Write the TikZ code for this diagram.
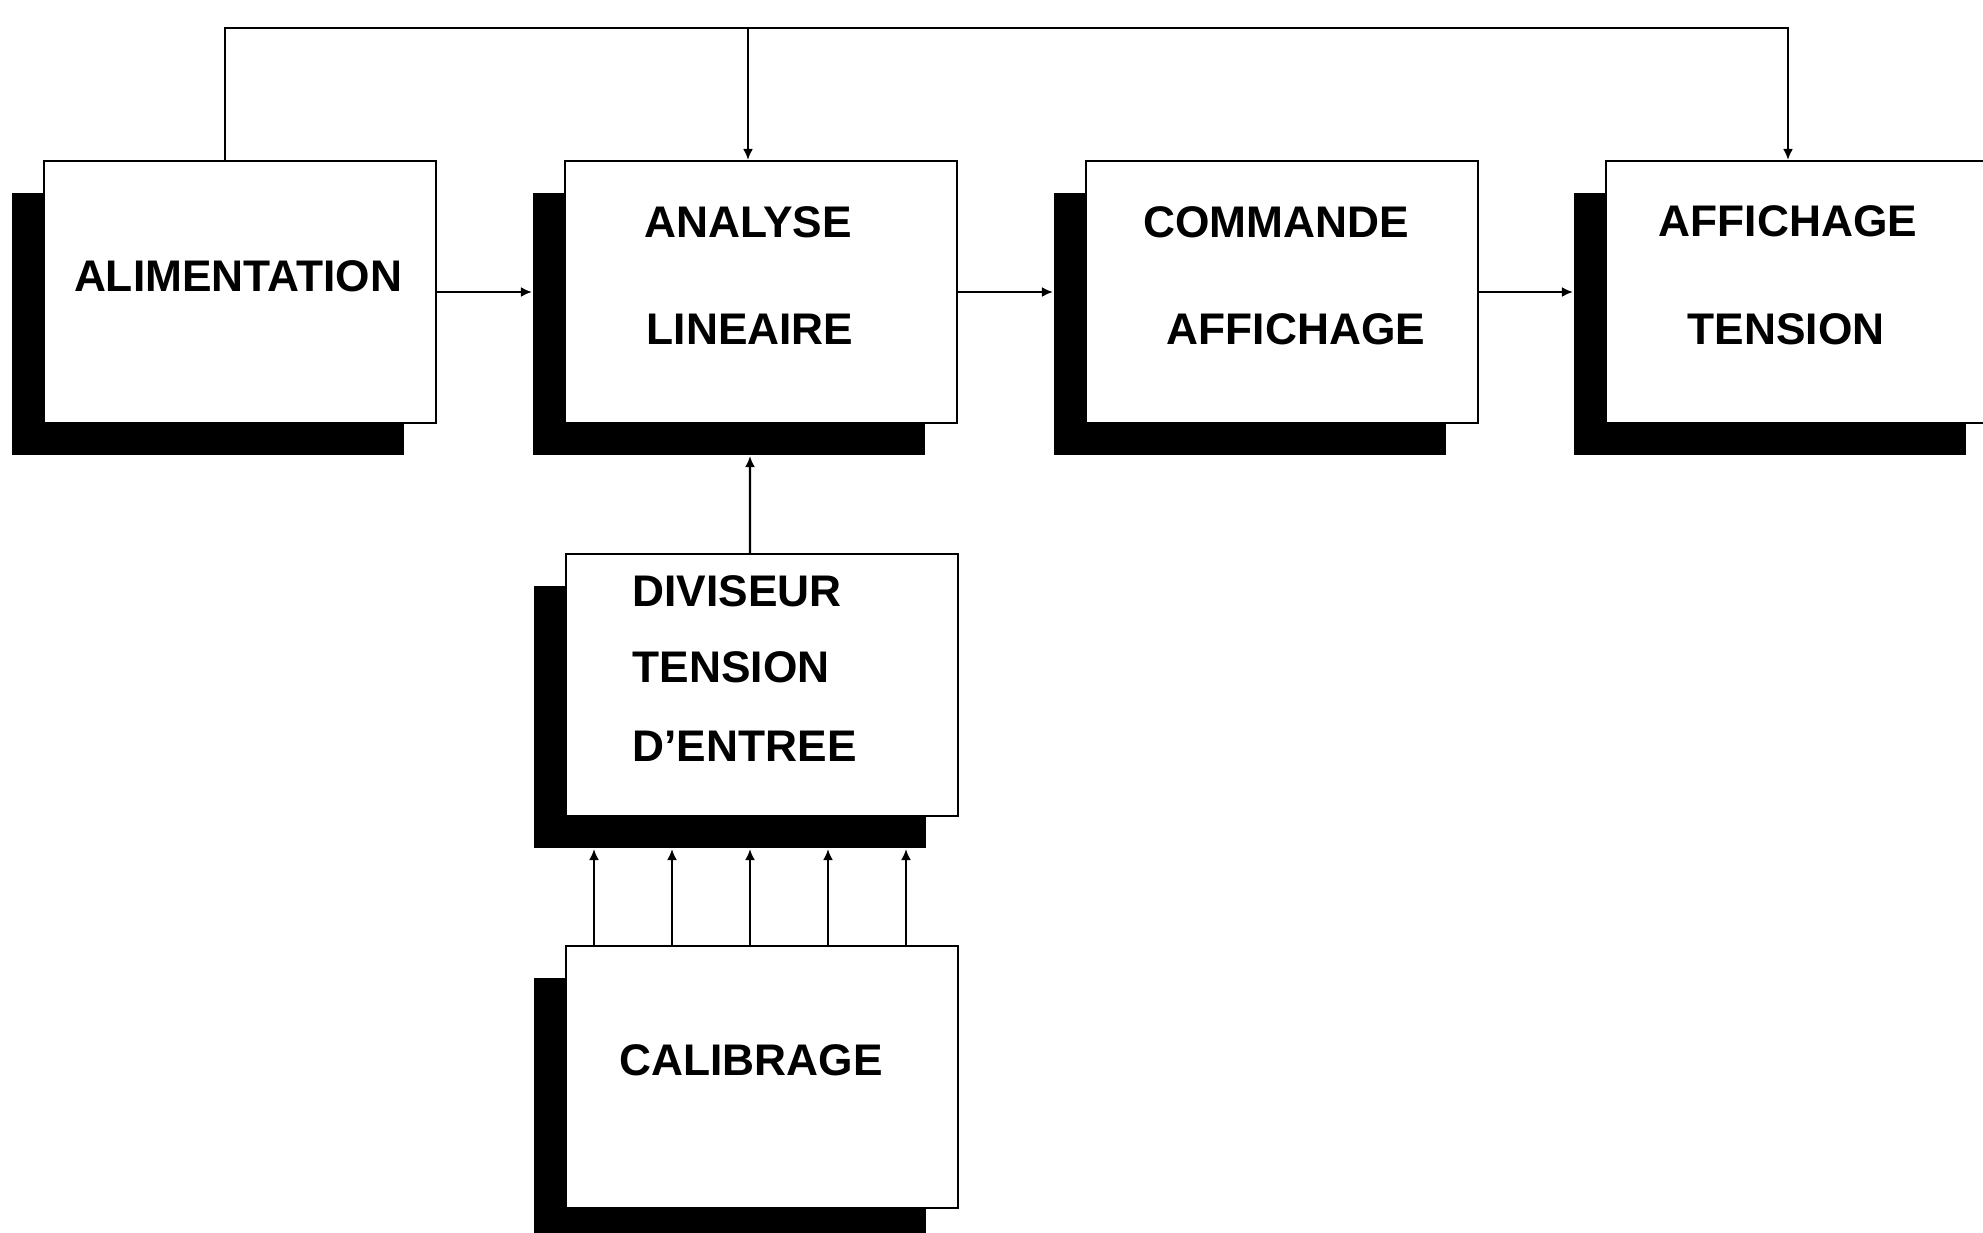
\documentclass[tikz,border=0pt]{standalone}
\usepackage{fontspec}
\setmainfont{Liberation Sans}
\usetikzlibrary{arrows.meta, shadows}

\begin{document}
\begin{tikzpicture}[
    >=Latex,
    blk/.style={draw, line width=0.6pt, fill=white, inner sep=0pt,
      minimum width=3.92cm, minimum height=2.62cm,
      drop shadow={shadow xshift=-0.32cm, shadow yshift=-0.32cm, opacity=1, fill=black}},
    lbl/.style={inner sep=0pt, font=\fontsize{12.6}{15}\selectfont\bfseries},
    wire/.style={line width=0.6pt},
    arr/.style={-{Latex[length=1.1mm, width=1mm]}, line width=0.6pt}
  ]
  \clip (0,0) rectangle (19.83,-12.32);

  % blocks
  \node[blk] (ali) at (2.40,-2.92) {};
  \node[blk] (ana) at (7.61,-2.92) {};
  \node[blk] (com) at (12.82,-2.92) {};
  \node[blk] (aft) at (18.02,-2.92) {};
  \node[blk] (div) at (7.62,-6.85) {};
  \node[blk] (cal) at (7.62,-10.77) {};

  % texts
  \node[lbl] (ali-t) at ([shift={(-0.02,0.16)}]ali.center) {ALIMENTATION};
  \node[lbl] (ana-t1) at ([shift={(-0.13,0.70)}]ana.center) {ANALYSE};
  \node[lbl] (ana-t2) at ([shift={(-0.11,-0.37)}]ana.center) {LINEAIRE};
  \node[lbl] (com-t1) at ([shift={(-0.06,0.70)}]com.center) {COMMANDE};
  \node[lbl] (com-t2) at ([shift={(0.14,-0.37)}]com.center) {AFFICHAGE};
  \node[lbl] (aft-t1) at ([shift={(-0.14,0.71)}]aft.center) {AFFICHAGE};
  \node[lbl] (aft-t2) at ([shift={(-0.16,-0.37)}]aft.center) {TENSION};
  \node[lbl, anchor=west] (div-t1) at ([shift={(-1.30,0.94)}]div.center) {DIVISEUR};
  \node[lbl, anchor=west] (div-t2) at ([shift={(-1.30,0.18)}]div.center) {TENSION};
  \node[lbl, anchor=west] (div-t3) at ([shift={(-1.30,-0.61)}]div.center) {D’ENTREE};
  \node[lbl] (cal-t) at ([shift={(-0.11,0.17)}]cal.center) {CALIBRAGE};

  % supply bus on top
  \coordinate (top) at (0,-0.28);
  \coordinate (ali-up) at ([xshift=-0.15cm]ali.north);
  \coordinate (ana-up) at ([xshift=-0.13cm]ana.north);
  \coordinate (aft-up) at ([xshift=-0.14cm]aft.north);
  \draw[arr] (ali-up) |- (aft-up |- top) -- (aft-up);
  \draw[arr] (ana-up |- top) -- (ana-up);

  % chain of blocks
  \draw[arr] (ali.east) -- ([xshift=-0.32cm]ana.west);
  \draw[arr] (ana.east) -- ([xshift=-0.32cm]com.west);
  \draw[arr] (com.east) -- ([xshift=-0.32cm]aft.west);
  \draw[arr] ([xshift=-0.12cm]div.north) -- ([shift={(-0.11cm,-0.32cm)}]ana.south);

  % calibration taps
  \foreach \dx in {-1.68,-0.90,-0.12,0.66,1.44}
    \draw[arr] ([xshift=\dx cm]cal.north) -- ([shift={(\dx cm,-0.32cm)}]div.south);
\end{tikzpicture}
\end{document}
